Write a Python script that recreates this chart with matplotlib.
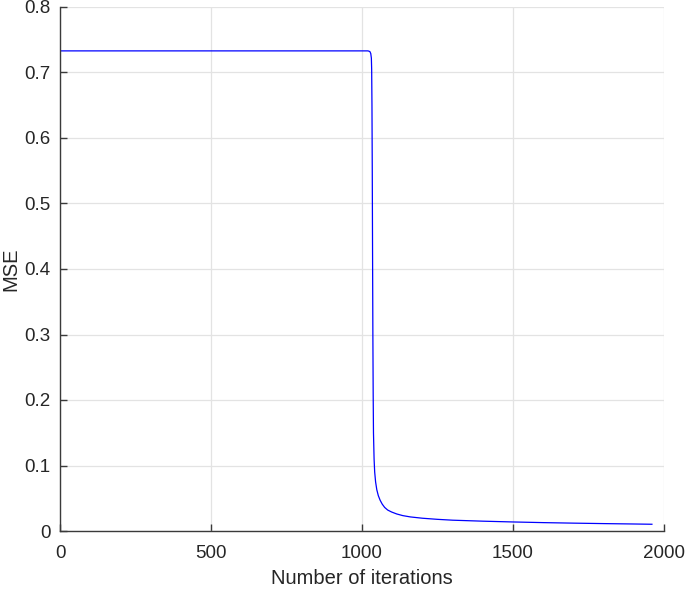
import matplotlib
matplotlib.use("Agg")
import matplotlib.pyplot as plt

iterations = [0, 1020, 1026, 1029, 1031, 1032, 1033, 1034, 1035, 1036, 1037, 1038, 1040,
              1042, 1045, 1049, 1054, 1060, 1067, 1075, 1085, 1098, 1115, 1135, 1160,
              1200, 1250, 1300, 1400, 1500, 1600, 1700, 1800, 1900, 1960]
mse = [0.733, 0.733, 0.732, 0.729, 0.722, 0.705, 0.65, 0.55, 0.42, 0.30, 0.21, 0.15, 0.11,
       0.09, 0.075, 0.063, 0.054, 0.047, 0.041, 0.036, 0.032, 0.029, 0.026, 0.0235, 0.0215,
       0.0195, 0.0178, 0.0165, 0.015, 0.0138, 0.0128, 0.012, 0.0113, 0.0107, 0.0103]
xticks = [0, 500, 1000, 1500, 2000]
yticks = [0, 0.1, 0.2, 0.3, 0.4, 0.5, 0.6, 0.7, 0.8]
ytick_labels = ["0", "0.1", "0.2", "0.3", "0.4", "0.5", "0.6", "0.7", "0.8"]

plt.rcParams['font.family'] = ['Liberation Sans', 'DejaVu Sans']

fig = plt.figure(figsize=(6.85, 5.93), dpi=100)
ax = fig.add_axes([60/685, 1-531/593, (664-60)/685, (531-7)/593])
ax.plot(iterations, mse, color=(0, 0, 1), linewidth=0.9)
ax.set_xlim(0, 2000)
ax.set_ylim(0, 0.8)
ax.set_xticks(xticks)
ax.set_yticks(yticks)
ax.set_yticklabels(ytick_labels)
ax.grid(True, color='#e3e3e3', linewidth=0.9)
ax.set_axisbelow(True)
for s in ['top', 'right']:
    ax.spines[s].set_visible(False)
for s in ['left', 'bottom']:
    ax.spines[s].set_color('#3a3a3a')
    ax.spines[s].set_linewidth(1.0)
ax.tick_params(direction='in', length=5, width=1, colors='#3a3a3a',
               labelcolor='#262626', labelsize=13.5)
ax.tick_params(axis='x', pad=10)
ax.tick_params(axis='y', pad=7)
ax.set_xlabel('Number of iterations', fontsize=14.5, color='#262626', labelpad=5)
ax.set_ylabel('MSE', fontsize=14.5, color='#262626')
ax.yaxis.set_label_coords(-40/604, 0.5)
fig.savefig('out.png', dpi=100)
